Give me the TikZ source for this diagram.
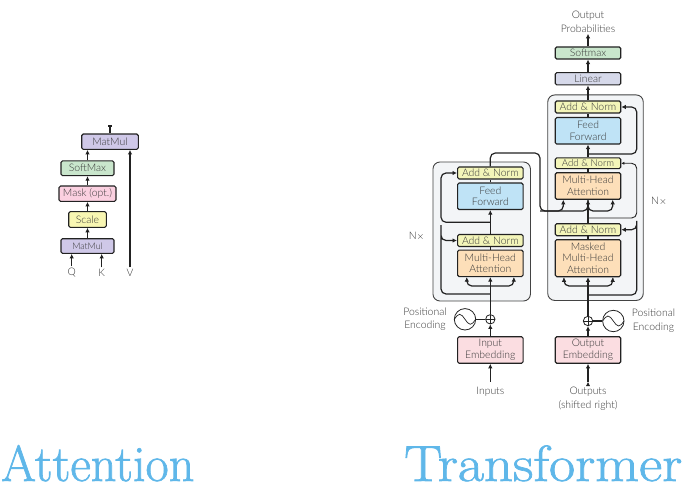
\documentclass[tikz,border=0pt]{standalone}
\usepackage{fontspec}
\setmainfont{Lato Light}
\newfontfamily\titlefont[FakeBold=1.3]{Latin Modern Roman}
\usetikzlibrary{arrows.meta, positioning}
\definecolor{inkc}{HTML}{222222}
\definecolor{textc}{HTML}{383838}
\definecolor{panelc}{HTML}{F3F5F7}
\definecolor{mulc}{HTML}{CFC8E8}
\definecolor{softc}{HTML}{C9E6CC}
\definecolor{maskc}{HTML}{FBD0E0}
\definecolor{scalec}{HTML}{F8F6B2}
\definecolor{linc}{HTML}{D6D9EA}
\definecolor{normc}{HTML}{F3F5B9}
\definecolor{feedc}{HTML}{BFE3F6}
\definecolor{attnc}{HTML}{FDDFB9}
\definecolor{embc}{HTML}{FBDDE1}
\definecolor{titlec}{HTML}{5FB7E9}
\tikzset{>={Latex[width=4.5pt,length=4.5pt]}}
\tikzset{
	box/.style = {draw = inkc, line width = 1.1pt, rounded corners = 1.5pt, inner sep = 0pt, align = center, minimum width = 65.5pt, text = textc, font = \fontsize{10.4}{11.7}\selectfont},
	addnorm/.style = {box, fill = normc, minimum height = 12pt},
	feed/.style = {box, fill = feedc, minimum height = 26.5pt},
	attn/.style = {box, fill = attnc, minimum height = 26.5pt},
	embed/.style = {box, fill = embc, minimum height = 26.5pt},
	panel/.style = {draw = inkc!85, line width = .9pt, fill = panelc, rounded corners = 7pt, inner sep = 0pt},
	lbl/.style = {text = textc, align = center, inner sep = 1.5pt, font = \fontsize{10.4}{13.7}\selectfont},
	wire/.style = {->, draw = inkc, line width = 1.2pt},
	elbow/.style = {wire, rounded corners = 5pt},
	addsym/.style = {draw = inkc, circle, line width = .8pt, minimum size = 9.4pt, inner sep = 0pt, path picture = {
		\draw [line width = .6pt] (path picture bounding box.west) -- (path picture bounding box.east);
		\draw [line width = .6pt] (path picture bounding box.north) -- (path picture bounding box.south);}},
	sinesym/.style = {draw = inkc, circle, line width = .8pt, minimum size = 21.4pt, inner sep = 0pt, path picture = {
		\draw [line width = .7pt] (path picture bounding box.west) sin ++(5.35pt,5pt) cos ++(5.35pt,-5pt) sin ++(5.35pt,-5pt) cos ++(5.35pt,5pt);}},
	heading/.style = {text = titlec, inner sep = 0pt, anchor = base west, transform shape, font = \titlefont\fontsize{50.8}{50.8}\selectfont}
}

\begin{document}
\begin{tikzpicture}[x = 1pt, y = 1pt, on grid, node distance = 25pt]
	\useasboundingbox (0,0) rectangle (695,-494);
	\node (ipanel) [panel, minimum width = 97.5pt, minimum height = 139pt] at (481.7,-231.5) {};
	\node (dpanel) [panel, minimum width = 95.5pt, minimum height = 205.5pt] at (595.5,-197.7) {};

	\node (mmb) [box, fill = mulc, minimum width = 53pt, minimum height = 14.6pt, font = \fontsize{9}{10}\selectfont] at (87.5,-246) {MatMul};
	\node (scale) [box, fill = scalec, minimum width = 37.6pt, minimum height = 15.6pt, above = 26.5pt of mmb] {Scale};
	\node (mask) [box, fill = maskc, minimum width = 57pt, minimum height = 15.3pt, above = 25.8pt of scale] {Mask (opt.)};
	\node (soft) [box, fill = softc, minimum width = 53pt, minimum height = 14.7pt, above = 25.4pt of mask] {SoftMax};
	\node (mmt) [box, fill = mulc, minimum width = 56.6pt, minimum height = 15.3pt] at (110,-141.7) {MatMul};
	\node (q) [lbl] at (71.7,-272.7) {Q};
	\node (k) [lbl] at (101.7,-272.7) {K};
	\node (v) [lbl] at (130,-272.7) {V};
	\coordinate (mmo) at (110,-125.5);

	\node (iemb) [embed] at (490.3,-350) {Input\\Embedding};
	\node (iplus) [addsym, above = 30.7pt of iemb] {};
	\node (isin) [sinesym, left = 25.3pt of iplus] {};
	\node (imh) [attn, above = 56pt of iplus] {Multi-Head\\Attention};
	\node (ian1) [addnorm, above = 22.8pt of imh] {Add \& Norm};
	\node (iff) [feed, above = 44.2pt of ian1] {Feed\\Forward};
	\node (ian2) [addnorm, above = 23.3pt of iff] {Add \& Norm};
	\node (iin) [lbl] at (490.3,-392) {Inputs};
	\node (ipos) [lbl] at (425,-319.2) {Positional\\Encoding};
	\node (inx) [lbl] at (416.7,-236.7) {N$\times$};

	\node (oemb) [embed] at (588,-350) {Output\\Embedding};
	\node (oplus) [addsym, above = 29pt of oemb] {};
	\node (osin) [sinesym, right = 25.3pt of oplus] {};
	\node (dmm) [attn, minimum height = 37pt, above = 62.8pt of oplus] {Masked\\Multi-Head\\Attention};
	\node (dan1) [addnorm, above = 28.5pt of dmm] {Add \& Norm};
	\node (dmh) [attn, above = 43.7pt of dan1] {Multi-Head\\Attention};
	\node (dan2) [addnorm, minimum height = 10.7pt, font = \fontsize{9.6}{10}\selectfont, above = 22.7pt of dmh] {Add \& Norm};
	\node (dff) [feed, above = 32.5pt of dan2] {Feed\\Forward};
	\node (dan3) [addnorm, above = 23.8pt of dff] {Add \& Norm};
	\node (lin) [box, fill = linc, minimum height = 12.3pt, above = 28.2pt of dan3] {Linear};
	\node (sfm) [box, fill = softc, minimum height = 12pt, above = 25.8pt of lin] {Softmax};
	\node (oprob) [lbl] at (588,-21.5) {Output\\Probabilities};
	\node (oout) [lbl] at (588,-399) {Outputs\\(shifted right)};
	\node (opos) [lbl] at (653.5,-321) {Positional\\Encoding};
	\node (dnx) [lbl] at (659,-201.7) {N$\times$};

	\node (atitle) [heading, xscale = .99] at (1,-481) {Attention};
	\node (ttitle) [heading, xscale = 1.118] at (404,-481) {Transformer};

	\coordinate (itap1) at (490.3,-294);
	\coordinate (itap2) at (490.3,-222.3);
	\coordinate (itap3) at (490.3,-286);
	\coordinate (iin1) at (490.3,-381.7);
	\coordinate (iout) at (540,-153);
	\coordinate (ibus) at (540,-211);
	\coordinate (oin1) at (588,-381.7);
	\coordinate (dtap1) at (588,-295);
	\coordinate (dtap2) at (588,-218);
	\coordinate (dtap3) at (588,-154);
	\coordinate (dtap4) at (588,-211);
	\coordinate (dtap5) at (588,-286);
	\coordinate (ski1) at (441,-294);
	\coordinate (ski2) at (441,-222.3);
	\coordinate (skd2) at (636.7,-218);
	\coordinate (skd3) at (636.7,-154);
	\coordinate (dkey) at ([xshift = -24.7pt]dmh.south);
	\coordinate (dval) at ([xshift = 24.7pt]dmh.south);
	\coordinate (ikey) at ([xshift = -23.5pt]imh.south);
	\coordinate (ival) at ([xshift = 23.5pt]imh.south);
	\coordinate (mkey) at ([xshift = -24pt]dmm.south);
	\coordinate (mval) at ([xshift = 24.7pt]dmm.south);

	\path[wire]
		(q.north) edge (q.north |- mmb.south)
		(k.north) edge (k.north |- mmb.south)
		(v.north) edge (v.north |- mmt.south)
		(mmb) edge (scale)
		(scale) edge (mask)
		(mask) edge (soft)
		(soft.north) edge (soft.north |- mmt.south)
		(mmt.north -| mmo) edge [-{Bar[width=3.5pt]}] (mmo)
		(iin1) edge (iemb)
		(iemb) edge (iplus)
		(iplus) edge (imh)
		(imh) edge [-] (ian1)
		(ian1) edge (iff)
		(iff) edge [-] (ian2)
		(isin) edge [-] (iplus)
		(oin1) edge (oemb)
		(oemb) edge (oplus)
		(oplus) edge (dmm)
		(dmm) edge [-] (dan1)
		(dan1) edge (dmh)
		(dmh) edge [-] (dan2)
		(dan2) edge (dff)
		(dff) edge [-] (dan3)
		(dan3) edge (lin)
		(lin) edge (sfm)
		(sfm) edge (oprob)
		(osin) edge [-] (oplus);

	\draw[elbow] (itap1) -| (ski2) |- (ian1);
	\draw[elbow] (itap2) -| (ski1 |- ian2) -- (ian2);
	\draw[elbow, <->] (ikey) |- (itap3) -| (ival);
	\draw[elbow] (ian2.north) |- (iout) -- (ibus) -| (dkey);
	\draw[elbow, -] (ibus) -| (dmh.south);
	\draw[elbow] (dan1.north) |- (dtap4) -| (dval);
	\draw[elbow] (dtap1) -| (skd2) |- (dan1);
	\draw[elbow] (dtap3) -| (skd3 |- dan3) -- (dan3);
	\draw[elbow, line width = .9pt, -{Latex[width=3pt,length=3pt]}] (dtap2) -| (skd3 |- dan2) -- (dan2);
	\draw[elbow, <->] (mkey) |- (dtap5) -| (mval);
\end{tikzpicture}
\end{document}
